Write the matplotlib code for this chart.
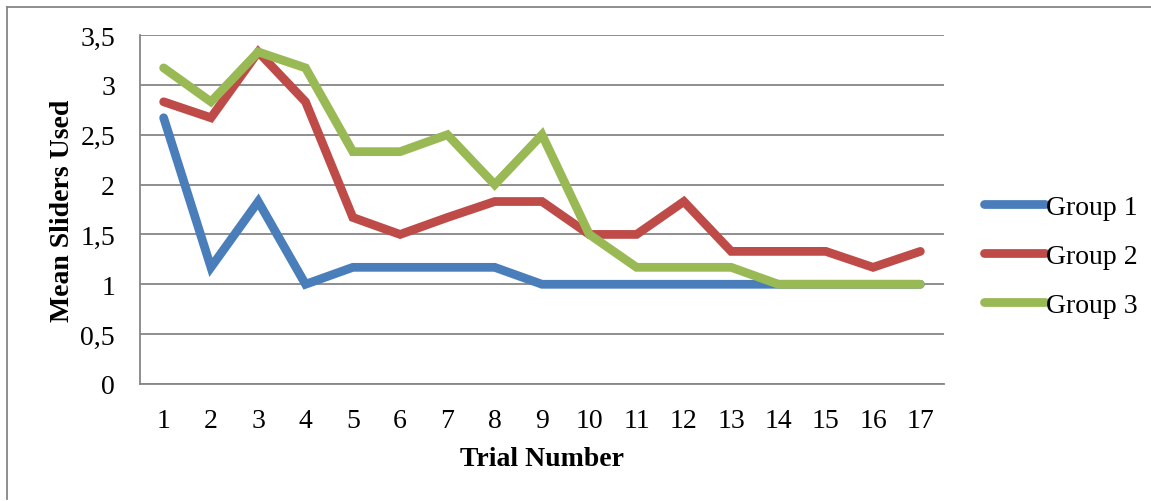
import matplotlib
matplotlib.use("Agg")
import matplotlib.pyplot as plt
from matplotlib.lines import Line2D

trials = list(range(1, 18))
group1 = [2.67, 1.17, 1.83, 1.0, 1.17, 1.17, 1.17, 1.17, 1.0, 1.0, 1.0, 1.0, 1.0, 1.0, 1.0, 1.0, 1.0]
group2 = [2.83, 2.67, 3.33, 2.83, 1.67, 1.5, 1.67, 1.83, 1.83, 1.5, 1.5, 1.83, 1.33, 1.33, 1.33, 1.17, 1.33]
group3 = [3.17, 2.83, 3.33, 3.17, 2.33, 2.33, 2.5, 2.0, 2.5, 1.5, 1.17, 1.17, 1.17, 1.0, 1.0, 1.0, 1.0]
series_names = ["Group 1", "Group 2", "Group 3"]
y_ticks = [0, 0.5, 1, 1.5, 2, 2.5, 3, 3.5]
y_tick_labels = ["0", "0,5", "1", "1,5", "2", "2,5", "3", "3,5"]

colors = ["#4A7EBB", "#BE4B48", "#98B954"]

plt.rcParams['font.family'] = ['Liberation Serif', 'DejaVu Serif']

W, H = 1151, 502
fig = plt.figure(figsize=(W / 100, H / 100), dpi=100)
ax = fig.add_axes([140 / W, 1 - 385 / H, (944 - 140) / W, (385 - 36) / H])

lw = 6.3
fs = 20
for vals, c, name in zip([group1, group2, group3], colors, series_names):
    ax.plot(trials, vals, color=c, lw=lw, solid_joinstyle='miter', solid_capstyle='round', label=name, zorder=3)

ax.set_xlim(0.5, 17.5)
ax.set_ylim(0, 3.5)
ax.set_yticks(y_ticks)
ax.set_yticklabels(y_tick_labels)
ax.set_xticks(trials)
ax.set_xticklabels([str(t) for t in trials])
ax.yaxis.grid(True, color="#868686", lw=1.3)
ax.set_axisbelow(True)
for s in ["top", "right"]:
    ax.spines[s].set_visible(False)
for s in ["left", "bottom"]:
    ax.spines[s].set_color("#868686")
    ax.spines[s].set_linewidth(1.3)
ax.tick_params(axis='both', length=0, labelsize=fs)
ax.tick_params(axis='y', pad=18)
ax.tick_params(axis='x', pad=17)

ax.set_ylabel("Mean Sliders Used", fontsize=fs, fontweight='bold', labelpad=4)
ax.set_xlabel("Trial Number", fontsize=fs, fontweight='bold', labelpad=10)

handles = [Line2D([0], [0], color=c, lw=lw, solid_capstyle='round') for c in colors]
leg = fig.legend(handles, series_names, loc='center left', bbox_to_anchor=(970 / W, 1 - 257 / H),
                 frameon=False, fontsize=fs, handlelength=2.2, handletextpad=0.05, labelspacing=0.85,
                 borderpad=0)

# outer border
fig.add_artist(Line2D([7.5 / W, 7.5 / W], [1 - 7.5 / H, 1 - 500 / H], color="#868686", lw=1.3, transform=fig.transFigure))
fig.add_artist(Line2D([7.5 / W, 1.0], [1 - 7.5 / H, 1 - 7.5 / H], color="#868686", lw=1.3, transform=fig.transFigure))

fig.savefig("out.png", dpi=100)
